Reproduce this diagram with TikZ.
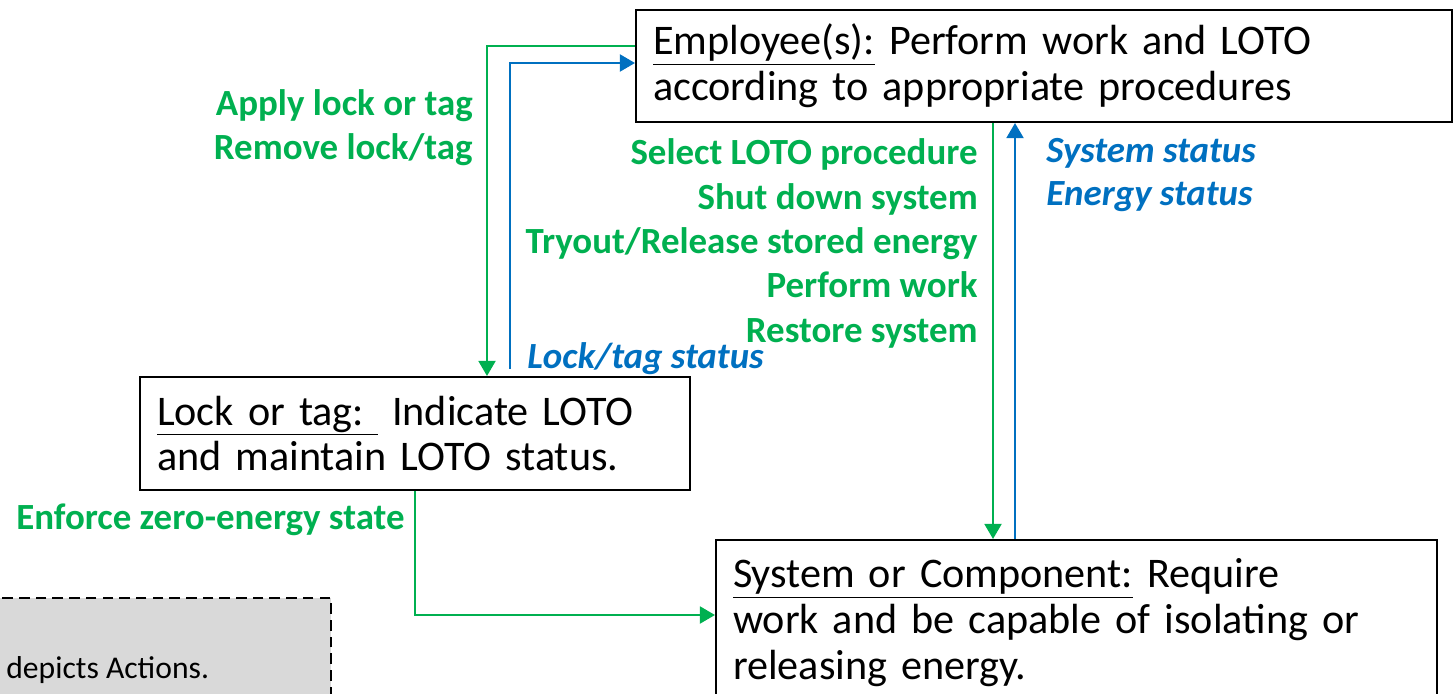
\documentclass[tikz,border=0pt]{standalone}
\usepackage{fontspec}
\setmainfont{Carlito}
\usetikzlibrary{arrows.meta}
\definecolor{actgreen}{HTML}{00B050}
\definecolor{infoblue}{HTML}{0070C0}
\definecolor{legendgray}{HTML}{D9D9D9}

\begin{document}
\begin{tikzpicture}[
    box/.style={rectangle, draw=black, line width=1.2pt, text width=#1, inner xsep=0.34cm, inner ysep=0pt, align=left, font=\fontsize{24}{26}\selectfont},
    act/.style={-{Triangle[width=0.34cm,length=0.3cm]}, draw=actgreen, line width=1.1pt},
    info/.style={-{Triangle[width=0.34cm,length=0.3cm]}, draw=infoblue, line width=1.1pt},
    actlbl/.style={font=\bfseries\fontsize{21}{25.2}\selectfont, text=actgreen, align=right, inner sep=0pt},
    infolbl/.style={font=\bfseries\itshape\fontsize{21}{25}\selectfont, text=infoblue, align=left, inner sep=0pt},
    legend/.style={rectangle, draw=black, dash pattern=on 6pt off 3.5pt, line width=1.2pt, fill=legendgray}
]
\useasboundingbox (0,0) rectangle (29.08,-13.86);
\clip (0,0) rectangle (29.08,-13.86);

% Nodes
\node[box=15.64cm, minimum height=2.24cm] (emp)  at (20.88, -1.32) {\underline{Employee(s):} Perform work and LOTO\\according to appropriate procedures};
\node[box=10.32cm, minimum height=2.26cm] (lock) at (8.3, -8.67)   {\underline{Lock or tag:\ } Indicate LOTO\\and maintain LOTO status.};
\node[box=13.74cm, minimum height=3.3cm]  (sys)  at (21.53, -12.45) {\underline{System or Component:} Require\\work and be capable of isolating or\\releasing energy.};

% Legend (cut off by the frame)
\node[legend, anchor=north east, minimum width=7cm, minimum height=3cm] (legbox) at (6.64, -11.94) {};
\node[anchor=west, inner sep=0pt, font=\fontsize{18}{20}\selectfont] (legtxt) at (0.12, -13.4) {depicts Actions.};

% Labels
\node[actlbl, anchor=east]  (lockact)  at (9.46, -2.55)  {Apply lock or tag\\Remove lock/tag};
\node[infolbl, anchor=west] (lockinfo) at (10.54, -7.18) {Lock/tag status};
\node[actlbl, anchor=east]  (sysact)   at (19.56, -4.87) {Select LOTO procedure\\Shut down system\\Tryout/Release stored energy\\Perform work\\Restore system};
\node[infolbl, anchor=west] (sysinfo)  at (20.92, -3.5)  {System status\\Energy status};
\node[actlbl, anchor=east]  (zeroact)  at (8.1, -10.4)   {Enforce zero-energy state};

% Connections Employee <-> Lock
\draw[act]  ([yshift=-0.74cm]emp.north west) -| ([xshift=1.44cm]lock.north);
\draw[info] ([xshift=1.9cm,yshift=0.14cm]lock.north) |- ([yshift=0.06cm]emp.west);

% Connections Employee <-> System
\coordinate (down) at ([xshift=-1.02cm]emp.south);
\coordinate (up)   at ([xshift=-1.23cm]sys.north);
\draw[act]  (down) -- (down |- sys.north);
\draw[info] (up) -- (up |- emp.south);

% Connection Lock -> System
\draw[act] (lock.south) |- ([yshift=0.15cm]sys.west);

\end{tikzpicture}
\end{document}
